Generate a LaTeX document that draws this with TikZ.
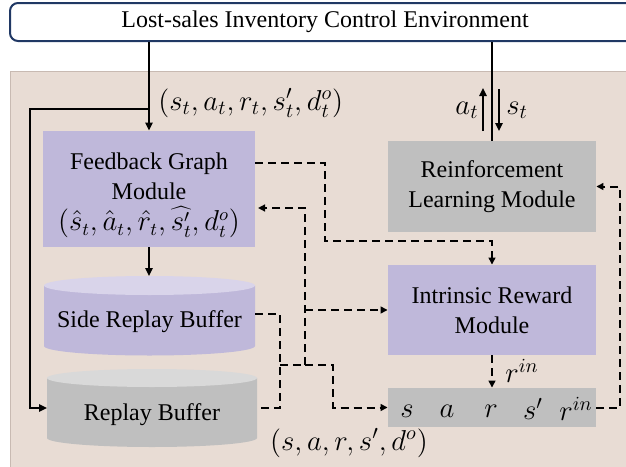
\documentclass[tikz,border=0pt]{standalone}
\usepackage{fontspec}
\setmainfont{Liberation Serif}
\usetikzlibrary{arrows.meta}
\definecolor{bgc}{RGB}{232,220,212}
\definecolor{bgline}{RGB}{200,186,178}
\definecolor{navy}{RGB}{32,56,100}
\definecolor{lav}{RGB}{191,184,218}
\definecolor{lavtop}{RGB}{217,212,234}
\definecolor{gbody}{RGB}{191,191,191}
\definecolor{gtop}{RGB}{217,217,217}
\tikzset{
  txt/.style={font=\fontsize{12}{14}\selectfont, align=center, inner sep=0pt},
  mth/.style={font=\fontsize{14}{16}\selectfont, inner sep=0pt},
  modbox/.style={txt, minimum width=104pt},
  solidarr/.style={line width=1pt, -{Triangle[length=4pt,width=3.6pt]}},
  solidln/.style={line width=1pt},
  dashln/.style={line width=1pt, dash pattern=on 4pt off 2.5pt},
  dasharr/.style={dashln, -{Triangle[length=3.5pt,width=3.4pt]}},
}
\begin{document}
\begin{tikzpicture}[x=0.5pt,y=-0.5pt]
\useasboundingbox (0,0) rectangle (626,466);
\clip (0,0) rectangle (626,466);
% background panel
\fill[bgc, draw=bgline, line width=0.5pt] (10,71) rectangle (660,500);
% environment
\node[txt, draw=navy, line width=1pt, fill=white, rounded corners=4pt, minimum width=315pt, minimum height=19pt] (env) at (325,22) {Lost-sales Inventory Control Environment};
% modules
\node[modbox, fill=lav, minimum height=58pt, minimum width=106pt] (fg) at (149,189) {};
\node[txt] (fgt) at (149,176) {Feedback Graph\\[0.8pt] Module};
\node[txt, font=\fontsize{13.5}{15}\selectfont] (fgm) at (149,222) {$\bigl(\hat{s}_t,\hat{a}_t,\hat{r}_t,\widehat{s'_t},d^o_t\bigr)$};
\node[modbox, fill=gbody, minimum height=45.5pt] (rl) at (492,186.5) {Reinforcement\\[0.8pt] Learning Module};
\node[modbox, fill=lav, minimum height=45pt] (ir) at (492,310) {Intrinsic Reward\\[0.8pt] Module};
\node[modbox, fill=gbody, minimum height=19.5pt] (smp) at (492,407.5) {};
\node[mth] (ss) at (407,411) {$s$};
\node[mth] (sa) at (447,411) {$a$};
\node[mth] (sr) at (491,411) {$r$};
\node[mth] (ssp) at (533,409) {$s'$};
\node[mth] (sri) at (576,409) {$r^{in}$};
% cylinders
\fill[lav] (44,285.5) -- (44,346) arc[start angle=180,end angle=360,x radius=52.75pt,y radius=4.75pt] -- (255,285.5) -- cycle;
\fill[lavtop] (149.5,285.5) ellipse [x radius=52.75pt, y radius=4.75pt];
\node[txt] (side) at (149.5,322) {Side Replay Buffer};
\fill[gbody] (47,378) -- (47,438) arc[start angle=180,end angle=360,x radius=52.5pt,y radius=4.5pt] -- (257,378) -- cycle;
\fill[gtop] (152,378) ellipse [x radius=52.5pt, y radius=4.5pt];
\node[txt] (rb) at (152,415) {Replay Buffer};
% coordinates
\coordinate (sidetop) at (149,276);
\coordinate (br) at (149,109);
\coordinate (rbin) at (47,408);
\coordinate (sideout) at (255,314);
\coordinate (rbout) at (257,408);
\coordinate (j1) at (280,365);
\coordinate (j2) at (305,365);
\coordinate (fgin) at (258,208);
\coordinate (fgout) at (255,163);
\coordinate (upa) at (483,131);
\coordinate (upb) at (483,88);
\coordinate (dna) at (499,89);
\coordinate (dnb) at (499,131);
% labels
\node[mth, anchor=west] (lab1) at (158,103) {$(s_t,a_t,r_t,s'_t,d^o_t)$};
\node[mth] (lab2) at (349,443) {$(s,a,r,s',d^o)$};
\node[mth] (lat) at (467,110) {$a_t$};
\node[mth] (lst) at (517,110) {$s_t$};
\node[mth] (lri) at (522,371) {$r^{in}$};
% solid connectors
\draw[solidarr] (env.south -| fg.north) -- (fg.north);
\draw[solidarr] (br) -- ++(-119,0) |- (rbin);
\draw[solidarr] (fg.south) -- (sidetop);
\draw[solidln] (env.south -| rl.north) -- (rl.north);
\draw[solidarr] (upa) -- (upb);
\draw[solidarr] (dna) -- (dnb);
% dashed connectors
\draw[dasharr] (fgout) -- ++(70,0) -- ++(0,78) -| (ir.north);
\draw[dashln] (sideout) -- ++(25,0) |- (rbout);
\draw[dashln] (j1) -- (j2);
\draw[dasharr] (j2) |- (fgin);
\draw[dasharr] (ir.west -| j2) -- (ir.west);
\draw[dasharr] (j2) -- ++(28,0) |- (smp.west);
\draw[dasharr] (ir.south) -- (smp.north);
\draw[dasharr] (smp.east) -- ++(24,0) |- (rl.east);
\end{tikzpicture}
\end{document}
